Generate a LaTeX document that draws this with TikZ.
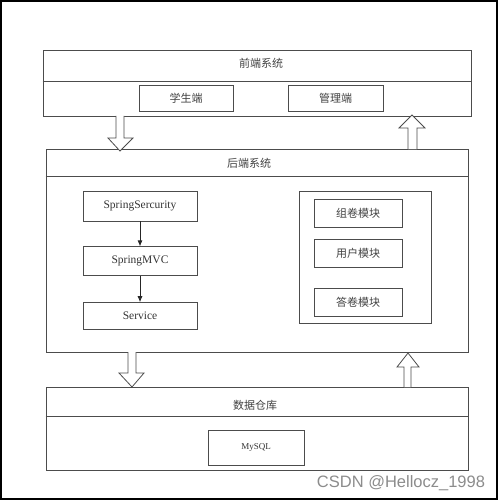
\documentclass[tikz,border=0pt]{standalone}
\usepackage{fontspec}
\setmainfont{Liberation Serif}
\newfontfamily\cjk{Noto Sans CJK SC}
\newfontfamily\wmfont{Liberation Sans}
\usetikzlibrary{positioning,arrows.meta}

\begin{document}
\begin{tikzpicture}[x=1pt,y=-1pt]
\tikzstyle{line}=[draw=black!70, line width=0.8pt]
\tikzstyle{sys}=[rectangle, line, inner sep=0pt]
\tikzstyle{box}=[rectangle, line, inner sep=0pt, font=\fontsize{11.5}{13}\selectfont, text=black!80]
\tikzstyle{cn}=[font=\cjk\fontsize{11}{13}\selectfont, text=black!75]
\tikzstyle{connect}=[line, draw=black!85, -{Latex[length=6pt,width=5pt]}]
\tikzstyle{fat}=[line, fill=white, line join=miter]
  \useasboundingbox (0,0) rectangle (500,500);
  \draw[line width=1.2pt] (1,1) rectangle (497,499);
  % front end
  \node[sys, minimum width=428pt, minimum height=66pt] (front) at (257,83) {};
  \node[cn] (fronttitle) at (261,63) {前端系统};
  \draw[line] ([yshift=-32pt]front.north west) -- ([yshift=-32pt]front.north east);
  \node[box, cn, minimum width=94pt, minimum height=26pt] (student) at (186,98) {学生端};
  \node[box, cn, minimum width=95pt, minimum height=26pt] (admin) at (335.5,98) {管理端};
  % back end
  \node[sys, minimum width=422pt, minimum height=203pt] (back) at (257,250.5) {};
  \node[cn] (backtitle) at (249,163) {后端系统};
  \draw[line] ([yshift=-28pt]back.north west) -- ([yshift=-28pt]back.north east);
  \node[box, minimum width=114pt, minimum height=30pt] (security) at (140,206) {SpringSercurity};
  \node[box, minimum width=114pt, minimum height=29pt] (mvc) [below=25pt of security] {SpringMVC};
  \node[box, minimum width=114pt, minimum height=27pt] (service) [below=26pt of mvc] {Service};
  \path (security) edge [connect] (mvc)
        (mvc) edge [connect] (service);
  % modules
  \node[sys, minimum width=132pt, minimum height=132pt] (modules) at (365,257) {};
  \node[box, cn, minimum width=88pt, minimum height=28pt] (paper) at (358,213) {组卷模块};
  \node[box, cn, minimum width=88pt, minimum height=28pt] (user) [below=12pt of paper] {用户模块};
  \node[box, cn, minimum width=88pt, minimum height=28pt] (answer) [below=20pt of user] {答卷模块};
  % database
  \node[sys, minimum width=422pt, minimum height=83pt] (db) at (257,428.5) {};
  \node[cn] (dbtitle) at (255,405) {数据仓库};
  \draw[line] ([yshift=-30pt]db.north west) -- ([yshift=-30pt]db.north east);
  \node[box, minimum width=96pt, minimum height=35pt, font=\fontsize{9}{11}\selectfont] (mysql) at (256,447.5) {MySQL};
  % block arrows
  \draw[fat] (116,116) -- (116,138) -- (108,138) -- (120,151) -- (133,138) -- (124,138) -- (124,116);
  \draw[fat] (408,149) -- (408,128) -- (399,128) -- (412,115) -- (425,128) -- (417,128) -- (417,149);
  \draw[fat] (128,352) -- (128,373) -- (119,373) -- (132,387) -- (144,373) -- (136,373) -- (136,352);
  \draw[fat] (404,387) -- (404,367) -- (397,367) -- (408,353) -- (419,367) -- (411,367) -- (411,387);
  % watermark
  \node[font=\wmfont\fontsize{16.5}{19}\selectfont, text=black!45] (mark) at (401,483) {CSDN @Hellocz\_1998};
\end{tikzpicture}
\end{document}
